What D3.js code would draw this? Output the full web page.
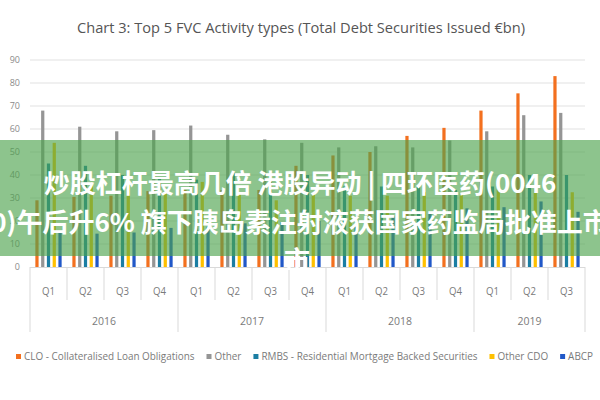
<!DOCTYPE html>
<html>
<head>
<meta charset="UTF-8">
<style>
  body { margin: 0; background: #fff; }
  svg { display: block; }
</style>
</head>
<body>
<svg id="chart" width="600" height="400"></svg>
<script src="https://d3js.org/d3.v7.min.js"></script>
<script>
// data
const quarters = ["Q1","Q2","Q3","Q4","Q1","Q2","Q3","Q4","Q1","Q2","Q3","Q4","Q1","Q2","Q3"];
const years = ["2016","2017","2018","2019"];
const yearSpans = [4, 4, 4, 3];
const seriesNames = ["CLO - Collateralised Loan Obligations", "Other",
  "RMBS - Residential Mortgage Backed Securities", "Other CDO", "ABCP"];
const clo      = [29, 30.5, 31, 33, 33.5, 33.5, 33.5, 44, 48.5, 50, 57, 60.5, 68, 75.5, 83];
const other    = [68, 61, 59, 59.5, 61.5, 57.5, 55.5, 54, 52, 52.5, 52, 55, 59, 66, 67];
const rmbs     = [45, 44, 40, 39, 38, 41, 41.5, 40, 35, 35, 35.5, 33.5, 35, 40, 40];
const otherCdo = [54, 37, 36.5, 33, 37, 32, 29, 32, 31, 31, 32.5, 32.5, 34, 34, 32.5];
const abcp     = [15, 14.5, 15, 17, 17.5, 19, 19.5, 20, 17.5, 22, 24, 25.5, 26, 28.5, 24];
const yTicks = [0, 10, 20, 30, 40, 50, 60, 70, 80, 90];
const colors = ["#f3701f", "#959595", "#1b7ea3", "#ffc000", "#2158c8"];
const title = "Chart 3: Top 5 FVC Activity types (Total Debt Securities Issued €bn)";
const bannerLines = ["炒股杠杆最高几倍 港股异动 | 四环医药(0046",
  "0)午后升6% 旗下胰岛素注射液获国家药监局批准上市", "市"];

const allSeries = [clo, other, rmbs, otherCdo, abcp];

let svg = d3.select("#chart");
let plotLeft = 30, plotRight = 585, plotTop = 60, plotBottom = 267;

let x = d3.scaleBand().domain(d3.range(quarters.length)).range([plotLeft, plotRight]);
let xInner = d3.scaleBand().domain(d3.range(allSeries.length))
    .range([0, x.bandwidth()]).paddingInner(0.44).paddingOuter(0.93);
let y = d3.scaleLinear().domain([0, 90]).range([plotBottom, plotTop]);

// title
svg.append("text")
    .attr("x", 301).attr("y", 33)
    .attr("text-anchor", "middle")
    .attr("font-family", "Open Sans").attr("font-size", 15)
    .attr("fill", "#555")
    .attr("textLength", 448).attr("lengthAdjust", "spacingAndGlyphs")
    .text(title);

// gridlines + y labels
svg.append("g").selectAll("line").data(yTicks.filter(d => d > 0)).enter()
    .append("line")
    .attr("x1", plotLeft).attr("x2", plotRight)
    .attr("y1", d => y(d)).attr("y2", d => y(d))
    .attr("stroke", "#e2e2e2").attr("stroke-width", 1.2);

svg.append("g").selectAll("text").data(yTicks).enter()
    .append("text")
    .attr("x", 20).attr("y", d => y(d) + 3)
    .attr("text-anchor", "end")
    .attr("font-family", "Open Sans").attr("font-size", 9)
    .attr("fill", "#8a8a8a")
    .text(d => d);

// bars
let groups = svg.append("g").selectAll("g").data(allSeries).enter()
    .append("g").attr("fill", (d, i) => colors[i]);
groups.each(function(vals, si) {
    d3.select(this).selectAll("rect").data(vals).enter()
        .append("rect")
        .attr("x", (d, qi) => x(qi) + xInner(si))
        .attr("width", xInner.bandwidth())
        .attr("y", d => y(d))
        .attr("height", d => y(0) - y(d));
});

// x axis: baseline, quarter and year separators
let axis = svg.append("g").attr("stroke", "#d9d9d9").attr("stroke-width", 1);
axis.append("line").attr("x1", plotLeft).attr("x2", plotRight)
    .attr("y1", plotBottom + 0.5).attr("y2", plotBottom + 0.5);

let yearStarts = [];
let acc = 0;
yearSpans.forEach(n => { yearStarts.push(acc); acc += n; });

d3.range(quarters.length + 1).forEach(i => {
    let isYear = yearStarts.includes(i) || i == quarters.length;
    let xp = i < quarters.length ? x(i) : plotRight;
    axis.append("line")
        .attr("x1", xp).attr("x2", xp)
        .attr("y1", plotBottom).attr("y2", isYear ? 332 : 300);
});

svg.append("g").selectAll("text").data(quarters).enter()
    .append("text")
    .attr("x", (d, i) => x(i) + x.bandwidth() / 2).attr("y", 295)
    .attr("text-anchor", "middle")
    .attr("font-family", "Open Sans").attr("font-size", 10)
    .attr("fill", "#7a7a7a")
    .attr("textLength", 13).attr("lengthAdjust", "spacingAndGlyphs")
    .text(d => d);

svg.append("g").selectAll("text").data(years).enter()
    .append("text")
    .attr("x", (d, i) => {
        let a = x(yearStarts[i]);
        let b = yearStarts[i] + yearSpans[i] < quarters.length ? x(yearStarts[i] + yearSpans[i]) : plotRight;
        return (a + b) / 2;
    })
    .attr("y", 325)
    .attr("text-anchor", "middle")
    .attr("font-family", "Open Sans").attr("font-size", 10)
    .attr("fill", "#7a7a7a")
    .attr("textLength", 24).attr("lengthAdjust", "spacingAndGlyphs")
    .text(d => d);

// legend: condensed text so the row spans the same width as the original
let legend = svg.append("g");
let items = legend.selectAll("g").data(seriesNames).enter().append("g");
items.append("rect").attr("width", 5).attr("height", 5).attr("y", -6)
    .attr("fill", (d, i) => colors[i]);
items.append("text").attr("x", 8).attr("y", 0)
    .attr("font-family", "Open Sans").attr("font-size", 10)
    .attr("fill", "#7a7a7a")
    .text(d => d);
let natural = [];
items.select("text").each(function() { natural.push(this.getComputedTextLength()); });
let itemGap = 12, legendStart = 16, legendEnd = 593;
let k = (legendEnd - legendStart - 8 * seriesNames.length - itemGap * (seriesNames.length - 1)) / d3.sum(natural);
let widths = [];
items.select("text").each(function(d, i) {
    let w = natural[i] * k;
    d3.select(this).attr("textLength", w).attr("lengthAdjust", "spacingAndGlyphs");
    widths.push(w + 8);
});
let pos = legendStart;
items.attr("transform", (d, i) => {
    let t = "translate(" + pos + ",360)";
    pos += widths[i] + itemGap;
    return t;
});

// overlay banner
svg.append("rect")
    .attr("x", 0).attr("y", 140).attr("width", 600).attr("height", 116)
    .attr("fill", "rgb(76,163,76)").attr("fill-opacity", 0.64);

svg.append("g").selectAll("text").data(bannerLines).enter()
    .append("text")
    .attr("x", (d, i) => i == 2 ? 297 : 300)
    .attr("y", (d, i) => 193 + i * 38.5)
    .attr("text-anchor", "middle")
    .attr("font-family", "Noto Sans CJK SC").attr("font-weight", "bold")
    .attr("font-size", 26)
    .attr("fill", "#fff")
    .text(d => d);
</script>
</body>
</html>
